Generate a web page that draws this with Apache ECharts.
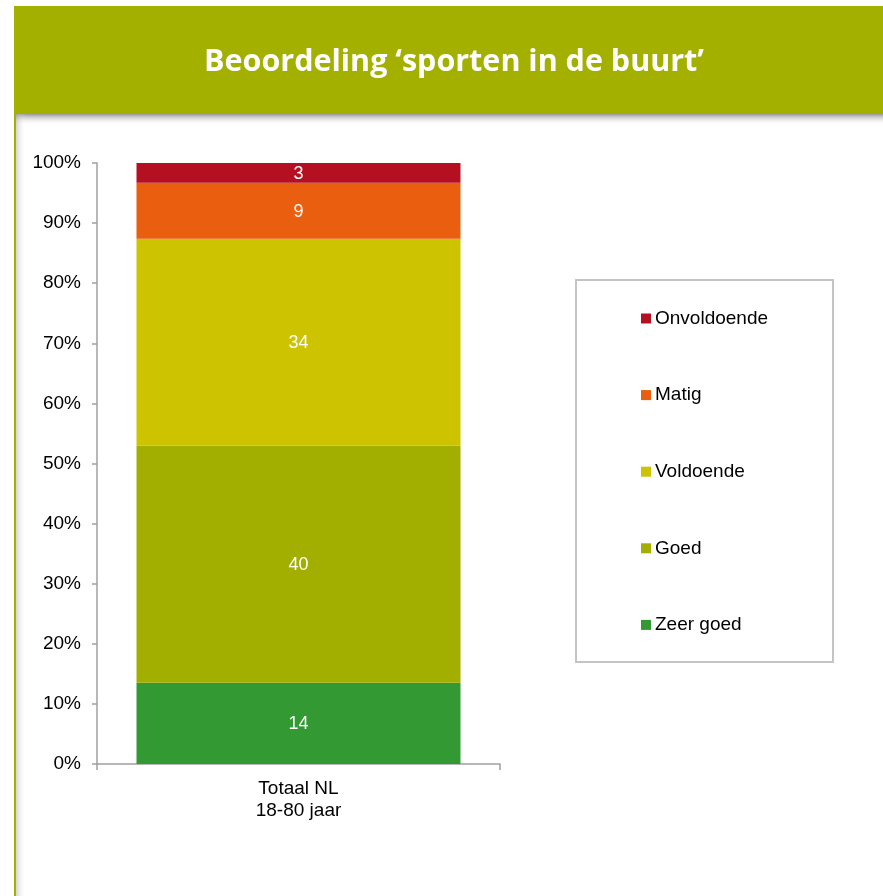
<!DOCTYPE html>
<html>
<head>
<meta charset="utf-8">
<script src="https://cdn.jsdelivr.net/npm/echarts@6/dist/echarts.min.js"></script>
<style>
  html, body { margin: 0; padding: 0; background: #fff; }
  #chart { width: 883px; height: 896px; }
</style>
</head>
<body>
<div id="chart"></div>
<script>
var chart = echarts.init(document.getElementById('chart'));

// categories and values (percentages)
let categories = ['Totaal NL\n18-80 jaar'];
let seriesNames = ['Zeer goed', 'Goed', 'Voldoende', 'Matig', 'Onvoldoende'];
let zeerGoed = [13.5];
let goed = [39.5];
let voldoende = [34.4];
let matig = [9.3];
let onvoldoende = [3.3];
let colors = ['#339933', '#a2af00', '#cdc300', '#e95e0f', '#b51022'];
let yTicks = [0, 10, 20, 30, 40, 50, 60, 70, 80, 90, 100];

let values = [zeerGoed, goed, voldoende, matig, onvoldoende];
let font = 'Liberation Sans, Arial, sans-serif';

var series = seriesNames.map(function (name, i) {
    return {
        name: name,
        type: 'bar',
        stack: 'total',
        barWidth: 324,
        itemStyle: { color: colors[i] },
        label: {
            show: true,
            position: 'inside',
            color: '#fff',
            fontFamily: font,
            fontSize: 18,
            offset: [0, 1],
            formatter: function (p) { return Math.round(p.value); }
        },
        emphasis: { disabled: true },
        data: values[i]
    };
});

var option = {
    animation: false,
    title: {
        text: 'Beoordeling \u2018sporten in de buurt\u2019',
        left: 449,
        top: 42,
        textAlign: 'center',
        textStyle: {
            color: '#fff',
            fontFamily: 'Open Sans',
            fontWeight: 'bold',
            fontSize: 30.5
        }
    },
    graphic: [
        { type: 'rect', z: -1, shape: { x: 14, y: 6, width: 869, height: 108 }, style: { fill: '#a3b000' } },
        { type: 'rect', z: -1, shape: { x: 14, y: 114, width: 869, height: 11 },
          style: { fill: new echarts.graphic.LinearGradient(0, 0, 0, 1, [
              { offset: 0, color: 'rgba(110,110,110,0.7)' },
              { offset: 1, color: 'rgba(255,255,255,0)' }]) } },
        { type: 'rect', z: -1, shape: { x: 16, y: 114, width: 10, height: 782 },
          style: { fill: new echarts.graphic.LinearGradient(0, 0, 1, 0, [
              { offset: 0, color: 'rgba(160,160,160,0.45)' },
              { offset: 1, color: 'rgba(255,255,255,0)' }]) } },
        { type: 'rect', z: 0, shape: { x: 14, y: 114, width: 2, height: 782 }, style: { fill: '#a3b000' } },
        { type: 'rect', z: 0, shape: { x: 576, y: 280, width: 257, height: 382 },
          style: { fill: '#fff', stroke: '#c4c4c4', lineWidth: 2 } }
    ],
    legend: {
        orient: 'vertical',
        left: 641,
        top: 309,
        padding: 0,
        itemWidth: 10,
        itemHeight: 10,
        itemGap: 57.6,
        icon: 'rect',
        data: seriesNames.slice().reverse(),
        textStyle: { fontFamily: font, fontSize: 19, color: '#000', lineHeight: 17, padding: [0, 0, 0, -1] },
        selectedMode: false
    },
    grid: { left: 97, right: 383, top: 163, bottom: 132 },
    xAxis: {
        type: 'category',
        data: categories,
        axisLine: { lineStyle: { color: '#a0a0a0', width: 1.5 } },
        axisTick: { show: true, length: 6, lineStyle: { color: '#a0a0a0', width: 1.5 } },
        axisLabel: { color: '#000', fontFamily: font, fontSize: 19, lineHeight: 22, margin: 14 }
    },
    yAxis: {
        type: 'value',
        min: 0,
        max: 100,
        interval: 10,
        axisLine: { show: true, lineStyle: { color: '#a0a0a0', width: 1.5 } },
        axisTick: { show: true, length: 5, lineStyle: { color: '#a0a0a0', width: 1.5 } },
        splitLine: { show: false },
        axisLabel: {
            color: '#000',
            fontFamily: font,
            fontSize: 19,
            margin: 16,
            formatter: function (v) { return yTicks.indexOf(v) >= 0 ? v + '%' : ''; }
        }
    },
    series: series
};
chart.setOption(option);
</script>
</body>
</html>
